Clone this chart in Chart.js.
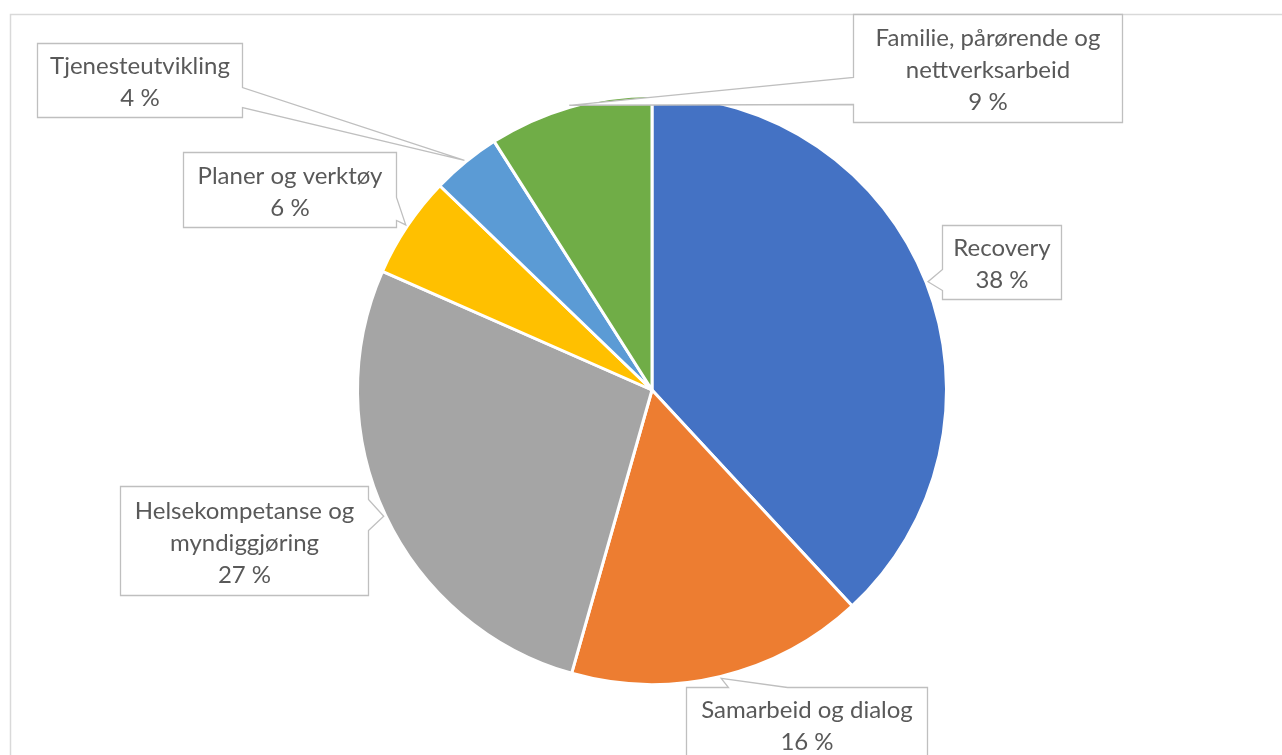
<!DOCTYPE html>
<html>
<head>
<meta charset="utf-8">
<script src="https://cdn.jsdelivr.net/npm/chart.js@4/dist/chart.umd.min.js"></script>
<style>
  html, body { margin: 0; padding: 0; background: #fff; }
  #wrap { width: 1282px; height: 755px; position: relative; }
</style>
</head>
<body>
<div id="wrap"><canvas id="graf"></canvas></div>
<script>
// data
const kategorier = [
    ['Recovery'],
    ['Samarbeid og dialog'],
    ['Helsekompetanse og', 'myndiggjøring'],
    ['Planer og verktøy'],
    ['Tjenesteutvikling'],
    ['Familie, pårørende og', 'nettverksarbeid']
];
const andeler = [38.1, 16.3, 27.2, 5.6, 3.8, 9.0];
const farger = ['#4472C4', '#ED7D31', '#A5A5A5', '#FFC000', '#5B9BD5', '#70AD47'];

// callout boxes: offset of box from pie centre, size, which side the pointer leaves from
const bokser = [
    { dx: 290, dy: -165, w: 119, h: 74, side: 'left', a: 44, b: 65 },
    { dx: 34, dy: 297, w: 241, h: 74, side: 'top', a: 42, b: 101 },
    { dx: -532, dy: 96, w: 248, h: 109, side: 'right', a: 13, b: 44 },
    { dx: -469, dy: -238, w: 213, h: 75, side: 'right', a: 45, b: 68 },
    { dx: -615, dy: -347, w: 205, h: 74, side: 'right', a: 44, b: 64 },
    { dx: 201, dy: -376, w: 269, h: 108, side: 'left', a: 63, b: 90 }
];

const ramme = {
    id: 'ramme',
    beforeDraw(chart) {
        const ctx = chart.ctx;
        ctx.save();
        ctx.strokeStyle = '#d9d9d9';
        ctx.lineWidth = 1.5;
        ctx.beginPath();
        ctx.moveTo(10.5, 760);
        ctx.lineTo(10.5, 14.5);
        ctx.lineTo(1290, 14.5);
        ctx.stroke();
        ctx.restore();
    }
};

const etiketter = {
    id: 'etiketter',
    afterDraw(chart) {
        const ctx = chart.ctx;
        const meta = chart.getDatasetMeta(0);
        const total = andeler.reduce((s, v) => s + v, 0);
        ctx.save();
        meta.data.forEach(function (arc, i) {
            const b = bokser[i];
            const cx = arc.x, cy = arc.y;
            const mid = (arc.startAngle + arc.endAngle) / 2;
            const tx = cx + Math.cos(mid) * (arc.outerRadius + 2);
            const ty = cy + Math.sin(mid) * (arc.outerRadius + 2);
            const x = Math.round(cx + b.dx) + 0.5;
            const y = Math.round(cy + b.dy) + 0.5;
            ctx.beginPath();
            if (b.side === 'right') {
                ctx.moveTo(x, y);
                ctx.lineTo(x + b.w, y);
                ctx.lineTo(x + b.w, y + b.a);
                ctx.lineTo(tx, ty);
                ctx.lineTo(x + b.w, y + b.b);
                ctx.lineTo(x + b.w, y + b.h);
                ctx.lineTo(x, y + b.h);
            } else if (b.side === 'left') {
                ctx.moveTo(x, y);
                ctx.lineTo(x + b.w, y);
                ctx.lineTo(x + b.w, y + b.h);
                ctx.lineTo(x, y + b.h);
                ctx.lineTo(x, y + b.b);
                ctx.lineTo(tx, ty);
                ctx.lineTo(x, y + b.a);
            } else {
                ctx.moveTo(x, y);
                ctx.lineTo(x + b.a, y);
                ctx.lineTo(tx, ty);
                ctx.lineTo(x + b.b, y);
                ctx.lineTo(x + b.w, y);
                ctx.lineTo(x + b.w, y + b.h);
                ctx.lineTo(x, y + b.h);
            }
            ctx.closePath();
            ctx.fillStyle = '#ffffff';
            ctx.fill();
            ctx.strokeStyle = '#bfbfbf';
            ctx.lineWidth = 1.3;
            ctx.stroke();

            const linjer = kategorier[i].concat([Math.round(andeler[i] / total * 100) + ' %']);
            const lh = 32;
            ctx.fillStyle = '#595959';
            ctx.font = '24px Lato';
            ctx.textAlign = 'center';
            ctx.textBaseline = 'middle';
            const y0 = y + b.h / 2 + 2 - (linjer.length - 1) * lh / 2;
            linjer.forEach(function (t, k) {
                ctx.fillText(t, x + b.w / 2, y0 + k * lh);
            });
        });
        ctx.restore();
    }
};

const el = document.getElementById('graf');
new Chart(el, {
    type: 'pie',
    data: {
        labels: kategorier,
        datasets: [{
            data: andeler,
            backgroundColor: farger,
            borderColor: '#ffffff',
            borderWidth: 3,
            hoverBorderWidth: 3,
            hoverOffset: 0
        }]
    },
    options: {
        responsive: true,
        maintainAspectRatio: false,
        animation: false,
        events: [],
        layout: {
            padding: { top: 94, bottom: 69, left: 42, right: 20 }
        },
        plugins: {
            legend: { display: false },
            tooltip: { enabled: false }
        }
    },
    plugins: [ramme, etiketter]
});
</script>
</body>
</html>
